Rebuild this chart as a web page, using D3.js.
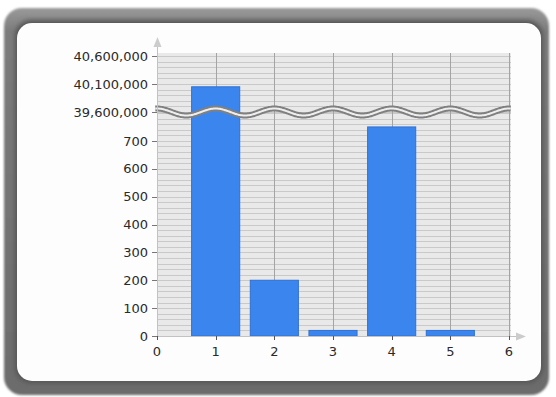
<!DOCTYPE html>
<html><head><meta charset="utf-8">
<script src="https://cdn.jsdelivr.net/npm/d3@7"></script>
<style>html,body{margin:0;padding:0;background:#fff;}svg{display:block;}</style>
</head><body>
<script>
const categories = [1, 2, 3, 4, 5];
const values = [40050000, 200, 20, 750, 20];
const xTicks = [0, 1, 2, 3, 4, 5, 6];
const yTicksLow = [0, 100, 200, 300, 400, 500, 600, 700];
const yTicksHigh = [39600000, 40100000, 40600000];
const lowMinor = d3.range(0, 801, 20);
const highMinor = d3.range(39600000, 40650001, 100000);

(function(){
const W = 556, H = 397;
const svg = d3.select("body").append("svg").attr("width", W).attr("height", H);
const defs = svg.append("defs");
const g1 = defs.append("linearGradient").attr("id","frameG").attr("x1",0).attr("y1",0).attr("x2",0).attr("y2",1);
g1.append("stop").attr("offset","0").attr("stop-color","#9a9a9a");
g1.append("stop").attr("offset","0.06").attr("stop-color","#7c7c7c");
g1.append("stop").attr("offset","1").attr("stop-color","#6c6c6c");
const f1 = defs.append("filter").attr("id","soft").attr("x","-5%").attr("y","-5%").attr("width","110%").attr("height","110%");
f1.append("feGaussianBlur").attr("stdDeviation",1.2);
const f2 = defs.append("filter").attr("id","innerSh").attr("x","-5%").attr("y","-5%").attr("width","110%").attr("height","110%");
f2.append("feGaussianBlur").attr("stdDeviation",2.5);

// frame
svg.append("rect").attr("x",4).attr("y",8).attr("width",545).attr("height",387).attr("rx",18).attr("fill","url(#frameG)").attr("filter","url(#soft)");
svg.append("rect").attr("x",15).attr("y",20).attr("width",528).attr("height",363).attr("rx",16).attr("fill","#555").attr("filter","url(#innerSh)");
svg.append("rect").attr("x",17).attr("y",23).attr("width",524).attr("height",358).attr("rx",15).attr("fill","#fdfdfd");

const pl = 157, pr = 511, pt = 53, pb = 336;
const x = d3.scaleLinear().domain([0, 6]).range([pl, 509]);
const yLow = d3.scaleLinear().domain([0, 800]).range([pb, 113]);
const yHigh = d3.scaleLinear().domain([39600000, 40600000]).range([112, 56]);
const breakVal = 800;
const yv = v => v > breakVal ? yHigh(v) : yLow(v);

svg.append("rect").attr("x",pl).attr("y",pt).attr("width",pr-pl).attr("height",pb-pt).attr("fill","#e9e9e9");

const grid = svg.append("g");
grid.selectAll("line.lo").data(lowMinor).join("line")
  .attr("x1",pl).attr("x2",pr).attr("y1",d=>Math.round(yLow(d))+0.5).attr("y2",d=>Math.round(yLow(d))+0.5)
  .attr("stroke","#c9c9c9").attr("stroke-width",1);
grid.selectAll("line.hi").data(highMinor.filter(d=>yHigh(d)>=pt)).join("line")
  .attr("x1",pl).attr("x2",pr).attr("y1",d=>Math.round(yHigh(d))+0.5).attr("y2",d=>Math.round(yHigh(d))+0.5)
  .attr("stroke","#c9c9c9").attr("stroke-width",1);
grid.selectAll("line.v").data(xTicks.slice(1)).join("line")
  .attr("x1",d=>Math.round(x(d))+0.5).attr("x2",d=>Math.round(x(d))+0.5).attr("y1",pt).attr("y2",pb)
  .attr("stroke","#a4a4a4").attr("stroke-width",1);

const bw = (x(1)-x(0))*0.82;
svg.selectAll("rect.bar").data(categories).join("rect")
  .attr("x",(d)=>x(d)-bw/2).attr("width",bw)
  .attr("y",(d,i)=>yv(values[i])).attr("height",(d,i)=>pb - yv(values[i]))
  .attr("fill","#3b86ee").attr("stroke","#3070d4").attr("stroke-width",1);

const wavePts = d3.range(-0.03, 6.04, 0.02);
const waveY = 112, amp = 3.5;
const wave = d3.line().x(d=>x(d)).y(d=>waveY - amp*Math.cos(2*Math.PI*d)).curve(d3.curveBasis);
svg.append("path").attr("d",wave(wavePts)).attr("fill","none").attr("stroke","#808080").attr("stroke-width",6);
svg.append("path").attr("d",wave(wavePts)).attr("fill","none").attr("stroke","#eeeeee").attr("stroke-width",2);

const axisC = "#c2c2c2";
svg.append("line").attr("x1",pl+0.5).attr("x2",pl+0.5).attr("y1",pb).attr("y2",44).attr("stroke",axisC);
svg.append("path").attr("d",`M${pl+0.5},37 L${pl-3.5},47 L${pl+4.5},47 Z`).attr("fill","#cccccc");
svg.append("line").attr("x1",pl).attr("x2",518).attr("y1",pb+0.5).attr("y2",pb+0.5).attr("stroke",axisC);
svg.append("path").attr("d",`M526,${pb+0.5} L516,${pb-3.5} L516,${pb+4.5} Z`).attr("fill","#cccccc");

const font = "DejaVu Sans, sans-serif";
const yt = svg.append("g");
const allY = yTicksLow.map(v=>({v, y:yLow(v)})).concat(yTicksHigh.map(v=>({v, y:yHigh(v)})));
yt.selectAll("line").data(allY).join("line")
  .attr("x1",152).attr("x2",pl).attr("y1",d=>Math.round(d.y)+0.5).attr("y2",d=>Math.round(d.y)+0.5).attr("stroke","#777");
yt.selectAll("text").data(allY).join("text")
  .attr("x",148).attr("y",d=>d.y).attr("dy","0.36em").attr("text-anchor","end")
  .attr("font-family",font).attr("font-size",13).attr("fill","#2a2a2a")
  .text(d=>d3.format(",")(d.v));
const xt = svg.append("g");
xt.selectAll("line").data(xTicks).join("line")
  .attr("x1",d=>Math.round(x(d))+0.5).attr("x2",d=>Math.round(x(d))+0.5).attr("y1",pb).attr("y2",pb+4).attr("stroke","#555");
xt.selectAll("text").data(xTicks).join("text")
  .attr("x",d=>x(d)).attr("y",351).attr("dy","0.36em").attr("text-anchor","middle")
  .attr("font-family",font).attr("font-size",13).attr("fill","#2a2a2a")
  .text(d=>d);
})();
</script>
</body></html>
